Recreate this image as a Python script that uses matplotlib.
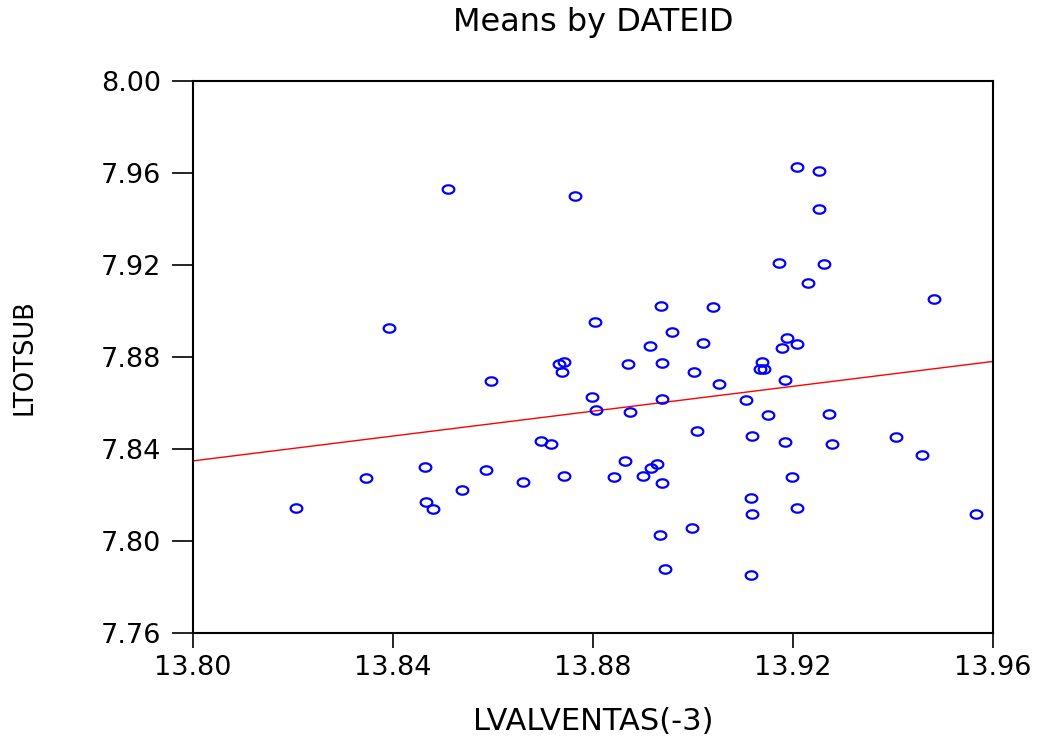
import numpy as np
import matplotlib
matplotlib.use("Agg")
import matplotlib.pyplot as plt
from matplotlib.path import Path

plt.rcParams['font.family'] = ['DejaVu Sans']

lvalventas = [13.8206, 13.8346, 13.8392, 13.8464, 13.8466, 13.8480, 13.8510, 13.8538,
              13.8586, 13.8596, 13.8660, 13.8696, 13.8716, 13.8732, 13.8742, 13.8738,
              13.8742, 13.8764, 13.8798, 13.8804, 13.8806, 13.8842, 13.8864, 13.8870,
              13.8874, 13.8900, 13.8914, 13.8916, 13.8928, 13.8934, 13.8936, 13.8938,
              13.8938, 13.8938, 13.8944, 13.8958, 13.8998, 13.9002, 13.9008, 13.9020,
              13.9040, 13.9052, 13.9106, 13.9118, 13.9116, 13.9118, 13.9116, 13.9138,
              13.9134, 13.9142, 13.9150, 13.9172, 13.9178, 13.9184, 13.9184, 13.9188,
              13.9198, 13.9208, 13.9208, 13.9208, 13.9230, 13.9252, 13.9252, 13.9262,
              13.9272, 13.9278, 13.9406, 13.9458, 13.9482, 13.9566]
ltotsub = [7.8144, 7.8274, 7.8926, 7.8322, 7.8170, 7.8139, 7.9530, 7.8222,
           7.8309, 7.8696, 7.8257, 7.8435, 7.8422, 7.8770, 7.8778, 7.8735,
           7.8283, 7.9500, 7.8626, 7.8952, 7.8570, 7.8278, 7.8348, 7.8770,
           7.8561, 7.8283, 7.8848, 7.8317, 7.8335, 7.8026, 7.9022, 7.8617,
           7.8774, 7.8252, 7.7878, 7.8909, 7.8057, 7.8735, 7.8478, 7.8861,
           7.9017, 7.8683, 7.8613, 7.8117, 7.8187, 7.8457, 7.7852, 7.8778,
           7.8748, 7.8748, 7.8548, 7.9209, 7.8839, 7.8700, 7.8430, 7.8883,
           7.8278, 7.9626, 7.8857, 7.8143, 7.9122, 7.9609, 7.9443, 7.9204,
           7.8552, 7.8422, 7.8452, 7.8374, 7.9052, 7.8117]

title = "Means by DATEID"
xlabel = "LVALVENTAS(-3)"
ylabel = "LTOTSUB"
xticks = [13.80, 13.84, 13.88, 13.92, 13.96]
yticks = [7.76, 7.80, 7.84, 7.88, 7.92, 7.96, 8.00]

x = np.array(lvalventas)
y = np.array(ltotsub)
slope, intercept = np.polyfit(x, y, 1)

# horizontally elongated open-circle marker
t = np.linspace(0, 2 * np.pi, 60)
ellipse = Path(np.column_stack([np.cos(t), 0.72 * np.sin(t)]), closed=True)

fig = plt.figure(figsize=(10.43, 7.42), dpi=100)
ax = fig.add_axes([0.185, 0.1469, 0.767, 0.7439])

ax.plot(x, y, linestyle='none', marker=ellipse, markersize=8.4,
        markerfacecolor='none', markeredgecolor='#0000ff', markeredgewidth=1.6, zorder=3)
xl = np.array([13.80, 13.96])
ax.plot(xl, intercept + slope * xl, color='#ff0000', lw=1.0, zorder=2)

ax.set_xlim(13.80, 13.96)
ax.set_ylim(7.76, 8.00)
ax.set_xticks(xticks)
ax.set_xticklabels([f"{v:.2f}" for v in xticks])
ax.set_yticks(yticks)
ax.set_yticklabels([f"{v:.2f}" for v in yticks])
ax.tick_params(axis='both', direction='out', width=1.2, labelsize=19.5)
ax.tick_params(axis='x', length=11, pad=5)
ax.tick_params(axis='y', length=15, pad=8)
for s in ax.spines.values():
    s.set_linewidth(1.5)

fig.text(593 / 1043, 1 - 22 / 742, title, fontsize=23, ha='center', va='center')
ax.set_xlabel(xlabel, fontsize=22)
ax.xaxis.set_label_coords(0.5, -0.161)
ax.xaxis.label.set_va('center')
ax.set_ylabel(ylabel, fontsize=18.5)
ax.yaxis.set_label_coords(-0.21, 0.5)
ax.yaxis.label.set_va('center')

fig.savefig("out.png", dpi=100)
